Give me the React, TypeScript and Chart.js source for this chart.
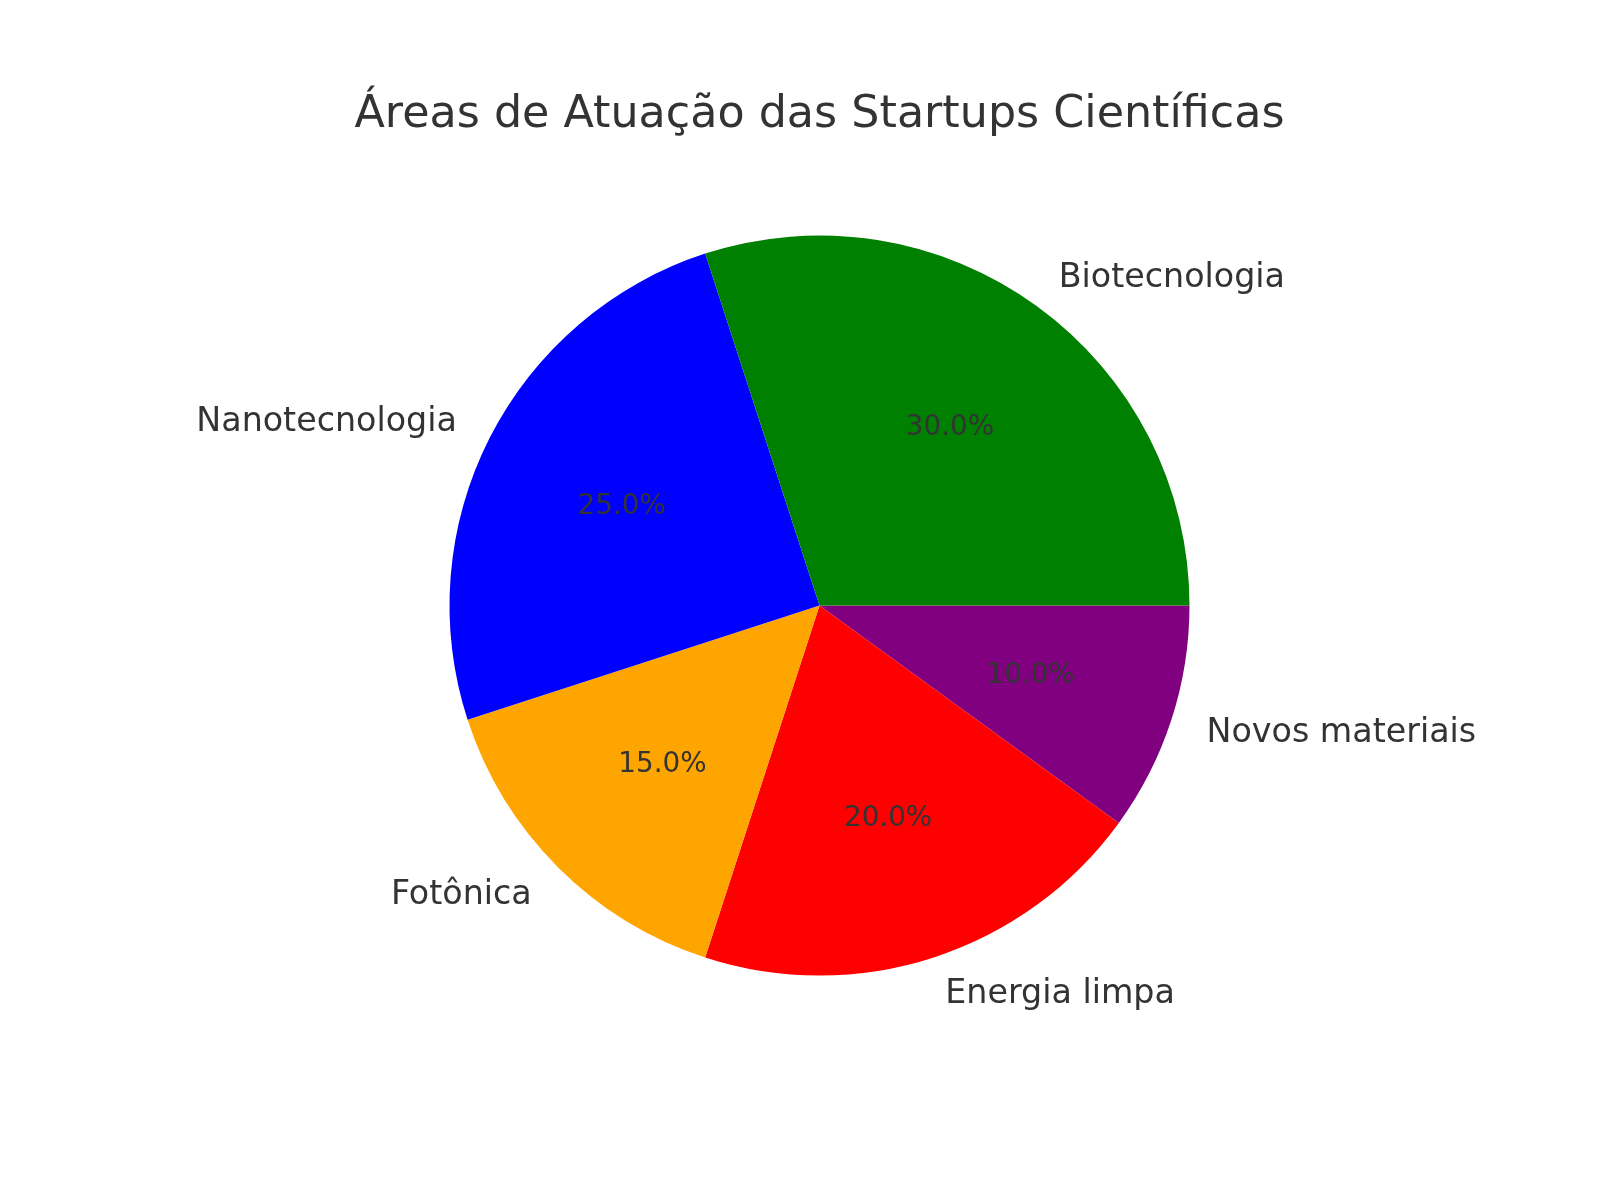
import { useEffect, useRef } from 'react';
import { Chart, ArcElement, PieController, type Plugin } from 'chart.js';

Chart.register(ArcElement, PieController);

const categories = ['Biotecnologia', 'Nanotecnologia', 'Fotônica', 'Energia limpa', 'Novos materiais'];
const shares = [30, 25, 15, 20, 10];
const sliceColors = ['#008000', '#0000ff', '#ffa500', '#ff0000', '#800080'];
const chartTitle = 'Áreas de Atuação das Startups Científicas';

const TEXT = '#333333';
const FONT = '"DejaVu Sans", sans-serif';

// matplotlib draws counter-clockwise from 3 o'clock; Chart.js goes clockwise,
// so the slices are fed in reverse and rotated to start at east.
const order = categories.map((_, i) => categories.length - 1 - i);

const labelsPlugin: Plugin<'pie'> = {
  id: 'mplLabels',
  afterDraw(chart) {
    const ctx = chart.ctx;
    const meta = chart.getDatasetMeta(0);
    const total = shares.reduce((a, b) => a + b, 0);
    ctx.save();
    ctx.fillStyle = TEXT;
    ctx.textBaseline = 'middle';
    // matplotlib centres the box including the descender, so nudge down a bit
    const dy = 2;
    meta.data.forEach((el, k) => {
      const arc = el as unknown as { x: number; y: number; startAngle: number; endAngle: number; outerRadius: number };
      const idx = order[k];
      const mid = (arc.startAngle + arc.endAngle) / 2;
      const cx = Math.cos(mid);
      const cy = Math.sin(mid);

      // category label at 1.1 r
      ctx.font = `33.3px ${FONT}`;
      ctx.textAlign = cx > 0 ? 'left' : 'right';
      ctx.fillText(categories[idx], arc.x + cx * arc.outerRadius * 1.1, arc.y + cy * arc.outerRadius * 1.1 + dy);

      // percentage at 0.6 r
      ctx.font = `27.8px ${FONT}`;
      ctx.textAlign = 'center';
      const pct = ((shares[idx] / total) * 100).toFixed(1) + '%';
      ctx.fillText(pct, arc.x + cx * arc.outerRadius * 0.6, arc.y + cy * arc.outerRadius * 0.6 + dy);
    });

    ctx.font = `44.4px ${FONT}`;
    ctx.textAlign = 'center';
    ctx.textBaseline = 'alphabetic';
    ctx.fillText(chartTitle, meta.data[0] ? (meta.data[0] as unknown as { x: number }).x : 820, 127);
    ctx.restore();
  },
};

export default function App() {
  const canvasRef = useRef<HTMLCanvasElement>(null);
  const chartRef = useRef<Chart<'pie'> | null>(null);

  useEffect(() => {
    document.body.style.margin = '0';
    document.body.style.background = '#ffffff';
    if (!canvasRef.current) return;

    chartRef.current = new Chart(canvasRef.current, {
      type: 'pie',
      data: {
        labels: order.map((i) => categories[i]),
        datasets: [
          {
            data: order.map((i) => shares[i]),
            backgroundColor: order.map((i) => sliceColors[i]),
            borderWidth: 0,
          },
        ],
      },
      options: {
        responsive: false,
        devicePixelRatio: 1,
        animation: false,
        rotation: 90,
        layout: { padding: { left: 449.5, right: 410.5, top: 235.5, bottom: 224.5 } },
        plugins: {
          legend: { display: false },
          tooltip: { enabled: false },
        },
      },
      plugins: [labelsPlugin],
    });
    return () => { chartRef.current?.destroy(); chartRef.current = null; };
  }, []);

  return (
    <div style={{ width: 1600, height: 1200, background: '#fff' }}>
      <canvas ref={canvasRef} width={1600} height={1200} role="img" aria-label={chartTitle} />
    </div>
  );
}
